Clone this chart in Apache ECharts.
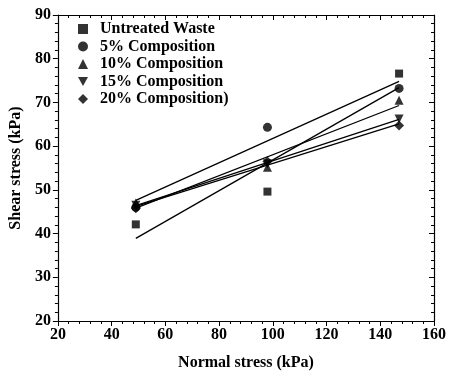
<!DOCTYPE html>
<html>
<head>
<meta charset="utf-8">
<script src="https://cdn.jsdelivr.net/npm/echarts@6/dist/echarts.min.js"></script>
<style>
  html, body { margin: 0; padding: 0; background: #fff; }
  #chart { width: 449px; height: 376px; }
</style>
</head>
<body>
<div id="chart"></div>
<script>
// normal stress values (kPa)
const normalStress = [49, 98, 147];

const untreated = [42.1, 49.6, 76.6];
const comp5 = [46.0, 64.3, 73.2];
const comp10 = [47.0, 55.2, 70.5];
const comp15 = [46.5, 56.0, 66.2];
const comp20 = [45.8, 56.5, 64.7];

// fitted line end values at x = 49 and x = 147
const fitX = [49, 147];
const fitUntreated = [38.9, 73.4];
const fit5 = [47.6, 74.8];
const fit10 = [45.8, 69.3];
const fit15 = [46.4, 66.1];
const fit20 = [46.2, 65.1];

const downTriangle = 'path://M0,0 L10,0 L5,9 Z';
const names = ['Untreated Waste', '5% Composition', '10% Composition', '15% Composition', '20% Composition)'];
const symbols = ['rect', 'circle', 'triangle', downTriangle, 'diamond'];
const sizes = [8, 9, 9, 9, 10];
const measured = [untreated, comp5, comp10, comp15, comp20];
const fits = [fitUntreated, fit5, fit10, fit15, fit20];

const font = 'Liberation Serif';
const series = [];

fits.forEach((f, i) => {
  series.push({
    name: 'fit' + i,
    type: 'line',
    data: fitX.map((x, k) => [x, f[k]]),
    symbol: 'none',
    lineStyle: { color: '#000', width: 1.3 },
    silent: true,
    z: 2
  });
});

measured.forEach((vals, i) => {
  series.push({
    name: names[i],
    type: 'scatter',
    symbol: symbols[i],
    symbolSize: sizes[i],
    itemStyle: { color: '#000' },
    data: normalStress.map((x, k) => [x, vals[k]]),
    z: 3
  });
});

const labelStyle = { color: '#000', fontFamily: font, fontWeight: 'bold', fontSize: 16 };

const option = {
  backgroundColor: '#fff',
  animation: false,
  grid: { left: 57, right: 11, top: 15, bottom: 53 },
  legend: {
    data: names.map((n, i) => ({ name: n, icon: symbols[i], itemStyle: { color: '#000' } })),
    orient: 'vertical',
    left: 73,
    top: 16,
    itemWidth: 10,
    itemHeight: 10,
    itemGap: 1.5,
    textStyle: { color: '#000', fontFamily: font, fontWeight: 'bold', fontSize: 16, lineHeight: 16, padding: [0, 0, 0, 7] }
  },
  xAxis: [
    {
      type: 'value',
      min: 20, max: 160, interval: 20,
      name: 'Normal stress (kPa)',
      nameLocation: 'middle',
      nameGap: 34,
      nameTextStyle: labelStyle,
      axisLine: { lineStyle: { color: '#000', width: 1.2 } },
      axisTick: { show: true, inside: false, length: 5, lineStyle: { color: '#000' } },
      minorTick: { show: true, splitNumber: 5, length: 3, lineStyle: { color: '#000' } },
      axisLabel: Object.assign({ margin: 6 }, labelStyle),
      splitLine: { show: false }
    },
    {
      type: 'value',
      position: 'top',
      min: 20, max: 160, interval: 20,
      axisLine: { show: true, lineStyle: { color: '#000', width: 1.2 } },
      axisTick: { show: true, inside: true, length: 5, lineStyle: { color: '#000' } },
      minorTick: { show: true, splitNumber: 5, length: 3, lineStyle: { color: '#000' } },
      axisLabel: { show: false },
      splitLine: { show: false }
    }
  ],
  yAxis: [
    {
      type: 'value',
      min: 20, max: 90, interval: 10,
      name: 'Shear stress (kPa)',
      nameLocation: 'middle',
      nameGap: 31,
      nameTextStyle: labelStyle,
      axisLine: { show: true, lineStyle: { color: '#000', width: 1.2 } },
      axisTick: { show: true, inside: false, length: 5, lineStyle: { color: '#000' } },
      minorTick: { show: true, splitNumber: 5, length: 3, lineStyle: { color: '#000' } },
      axisLabel: Object.assign({ margin: 7 }, labelStyle),
      splitLine: { show: false }
    },
    {
      type: 'value',
      position: 'right',
      min: 20, max: 90, interval: 10,
      axisLine: { show: true, lineStyle: { color: '#000', width: 1.2 } },
      axisTick: { show: true, inside: true, length: 5, lineStyle: { color: '#000' } },
      minorTick: { show: true, splitNumber: 5, length: 3, lineStyle: { color: '#000' } },
      axisLabel: { show: false },
      splitLine: { show: false }
    }
  ],
  series: series
};

const myChart = echarts.init(document.getElementById('chart'));
myChart.setOption(option);
</script>
</body>
</html>
